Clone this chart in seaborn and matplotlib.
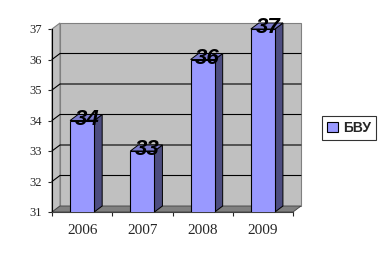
import matplotlib
matplotlib.use("Agg")
import matplotlib.pyplot as plt
import seaborn as sns
import pandas as pd
from matplotlib.patches import Polygon, Patch
from matplotlib.lines import Line2D
from matplotlib.transforms import IdentityTransform

years = ["2006", "2007", "2008", "2009"]
values = [34, 33, 36, 37]
series_name = "БВУ"
y_ticks = [31, 32, 33, 34, 35, 36, 37]

sns.set_style("white")
plt.rcParams['font.family'] = ['Liberation Sans', 'DejaVu Sans']

DPI = 100
fig = plt.figure(figsize=(3.87, 2.58), dpi=DPI)
ax = fig.add_axes([52/387, 46/258, 241/387, 183/258])

df = pd.DataFrame({"year": years, "value": values})
sns.barplot(data=df, x="year", y="value", color="#9999FF", width=0.4,
            edgecolor="black", linewidth=0.8, saturation=1, ax=ax, zorder=5)

ax.set_ylim(31, 37)
ax.set_xlim(-0.5, 3.5)
ax.set_facecolor("none")
ax.set_xlabel("")
ax.set_ylabel("")
ax.set_yticks(y_ticks)
ax.set_xticks(range(len(years)))
ax.set_xticklabels(years, family=['Liberation Serif'], fontsize=11)
ax.set_yticklabels([str(t) for t in y_ticks], family=['Liberation Serif'], fontsize=9)
ax.tick_params(axis='y', length=3, width=0.8, direction='out', left=True, pad=4)
ax.tick_params(axis='x', length=0, pad=9)
ax.set_xticks([-0.5, 0.5, 1.5, 2.5, 3.5], minor=True)
ax.tick_params(axis='x', which='minor', length=3, width=0.8, direction='out', bottom=True)
for s in ["top", "right"]:
    ax.spines[s].set_visible(False)
ax.spines["left"].set_color("black")
ax.spines["bottom"].set_color("#404040")
ax.spines["left"].set_linewidth(0.8)
ax.spines["bottom"].set_linewidth(0.8)

fig.canvas.draw()
dx, dy = 8, 6
tr = ax.transData

def pt(x, y):
    return tr.transform((x, y))

x0, x1 = -0.5, 3.5
ylo, yhi = 31, 37
idt = IdentityTransform()

def poly(pts, fc, ec="none", lw=0.6, z=1):
    p = Polygon(pts, closed=True, facecolor=fc, edgecolor=ec, linewidth=lw,
                transform=idt, zorder=z, clip_on=False)
    ax.add_patch(p)
    return p

# back wall
bl = pt(x0, ylo); br = pt(x1, ylo); tl = pt(x0, yhi); trr = pt(x1, yhi)
poly([bl + (dx, dy), br + (dx, dy), trr + (dx, dy), tl + (dx, dy)], "#C0C0C0", "#808080", 0.8, z=0.5)
# left side wall
poly([bl, bl + (dx, dy), tl + (dx, dy), tl], "#C0C0C0", "#808080", 0.8, z=0.6)
# gridlines
for t in y_ticks[1:-1]:
    a = pt(x0, t); b = pt(x1, t)
    ln = Line2D([a[0], a[0] + dx, b[0] + dx], [a[1], a[1] + dy, b[1] + dy],
                color="black", linewidth=0.8, transform=idt, zorder=0.8)
    ln.set_clip_on(False)
    ax.add_line(ln)
# floor
poly([bl, br, br + (dx, dy), bl + (dx, dy)], "#808080", "#404040", 0.6, z=0.9)

# bar 3D faces
for p, v in zip(ax.patches[:len(values)], values):
    bx = p.get_x(); bw = p.get_width()
    fr = pt(bx + bw, ylo); tlb = pt(bx, v); trb = pt(bx + bw, v)
    poly([fr, trb, trb + (dx, dy), fr + (dx, dy)], "#4D4D80", "black", 0.7, z=4)
    poly([tlb, trb, trb + (dx, dy), tlb + (dx, dy)], "#7A7ACC", "black", 0.7, z=4)
    c = pt(bx + bw / 2, v) + (dx / 2 + 1, 1)
    t = ax.text(c[0], c[1], str(v), transform=idt,
                ha="center", va="center", fontsize=16, fontweight="bold", style="italic",
                color="black", zorder=10)
    t.set_clip_on(False)

leg = fig.legend(handles=[Patch(facecolor="#9999FF", edgecolor="black", linewidth=0.8, label=series_name)],
                 loc="center", bbox_to_anchor=(349/387, 1 - 128/258), frameon=True,
                 fancybox=False, edgecolor="black",
                 prop={'size': 10, 'weight': 'bold'}, handlelength=0.8,
                 handleheight=0.8, handletextpad=0.4, borderpad=0.35, borderaxespad=0)
leg.get_frame().set_linewidth(0.8)

fig.savefig("out.png", dpi=DPI)
